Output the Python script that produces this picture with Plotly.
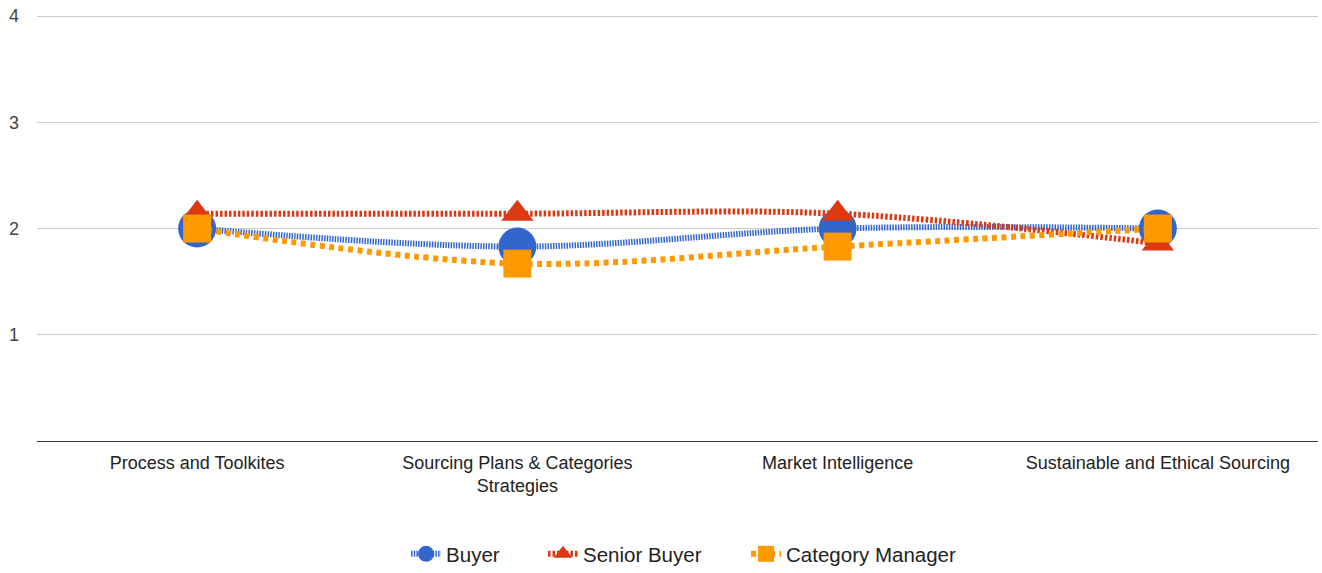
import plotly.graph_objects as go

categories = ["Process and Toolkites", "Sourcing Plans & Categories<br>Strategies",
              "Market Intelligence", "Sustainable and Ethical Sourcing"]
buyer = [2.0, 1.83, 2.0, 2.0]
senior_buyer = [2.14, 2.14, 2.14, 1.86]
category_manager = [2.0, 1.67, 1.83, 2.0]
y_ticks = [1, 2, 3, 4]

series = [
    ("Buyer", buyer, "#3366cc", "circle", 38, 6, "1.5px,1.2px", 20, "legend", 0.2881),
    ("Senior Buyer", senior_buyer, "#dc3912", "triangle-up", 28, 6, "2.5px,2px", 18, "legend2", 0.3950),
    ("Category Manager", category_manager, "#ff9900", "square", 28, 6, "5px,4.5px", 16, "legend3", 0.5535),
]

fig = go.Figure()
x_idx = list(range(len(categories)))
for name, vals, color, sym, msize, lw, dash, lsize, lg, lx in series:
    fig.add_trace(go.Scatter(
        x=x_idx, y=vals, name=name, mode="lines+markers",
        line=dict(color=color, width=lw, dash=dash, shape="spline", smoothing=1),
        marker=dict(symbol=sym, size=msize, color=color, line=dict(width=0)),
        showlegend=False, hoverinfo="skip",
    ))
legend_layouts = {}
for name, vals, color, sym, msize, lw, dash, lsize, lg, lx in series:
    fig.add_trace(go.Scatter(
        x=[None], y=[None], name=name, mode="lines+markers",
        line=dict(color=color, width=lw, dash=dash),
        marker=dict(symbol=sym, size=lsize, color=color, line=dict(width=0)),
        showlegend=True, legend=lg,
    ))
    legend_layouts[lg] = dict(
        orientation="h", x=lx, xanchor="left", yref="container",
        y=1 - 554 / 573, yanchor="middle",
        font=dict(size=20.5, color="#222222"), itemsizing="trace",
        bgcolor="rgba(0,0,0,0)",
    )

fig.update_layout(
    width=1322, height=573,
    margin=dict(l=37, r=4, t=15, b=132),
    paper_bgcolor="white", plot_bgcolor="white",
    font=dict(family="Arial, 'Liberation Sans', sans-serif", size=18, color="#222222"),
    xaxis=dict(
        tickmode="array", tickvals=x_idx, ticktext=categories,
        range=[-0.5, len(categories) - 0.5], showgrid=False, zeroline=False,
        showline=True, linecolor="#333333", linewidth=1, ticks="",
        tickfont=dict(size=18, color="#222222"), automargin=False,
        ticklabelstandoff=5,
    ),
    yaxis=dict(
        range=[0, 4.01], tickvals=y_ticks, ticktext=[str(t) for t in y_ticks],
        showgrid=True, gridcolor="#cccccc", gridwidth=1, zeroline=False,
        tickfont=dict(size=18, color="#444444"), ticklabelstandoff=17,
        automargin=False,
    ),
    **legend_layouts,
)

fig.write_html("out.html", config={"displayModeBar": False},
               post_script="document.body.style.margin='0';")
